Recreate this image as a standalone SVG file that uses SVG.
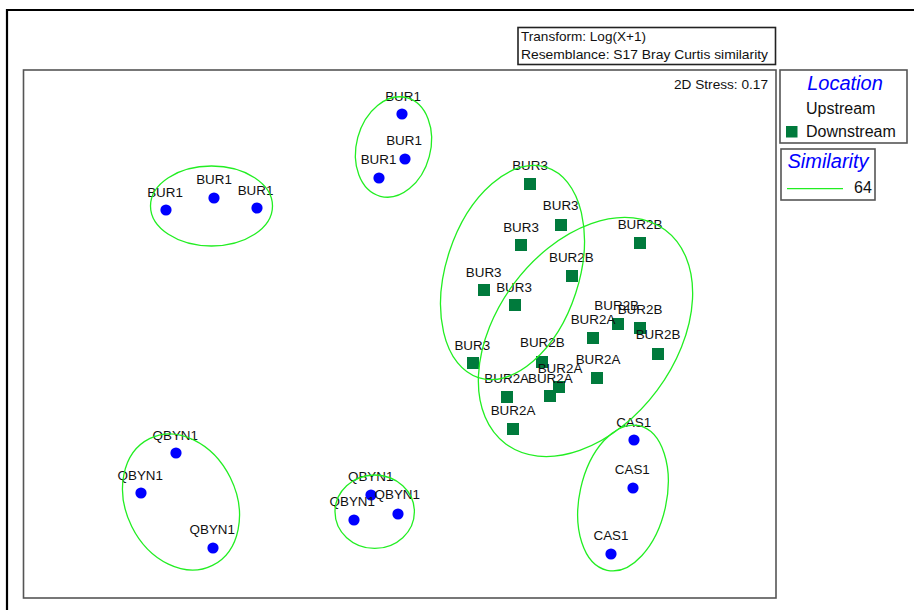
<svg xmlns="http://www.w3.org/2000/svg" width="914" height="610" viewBox="0 0 914 610">
<style>
text{font-family:"Liberation Sans",Arial,sans-serif;fill:#111}
.lbl{font-size:13.4px;text-anchor:middle}
.up{fill:#0000FF}
.dn{fill:#007A3C}
.ell{fill:none;stroke:#22EE22;stroke-width:1.3}
.box{fill:#fff;stroke:#555;stroke-width:1.6}
.leg{font-size:16px}
.ttl{font-size:20px;font-style:italic;fill:#0000FF}
</style>
<rect x="0" y="0" width="914" height="610" fill="#fff"/>
<path d="M7,610 V10 H914" fill="none" stroke="#000" stroke-width="2.2"/>
<rect id="plot" class="box" x="23.5" y="70" width="752.5" height="528"/>
<g id="transform-box">
<rect x="518" y="27.5" width="257.5" height="37" fill="#fff" stroke="#222" stroke-width="1.6"/>
<text x="521" y="41" font-size="13" textLength="125" lengthAdjust="spacingAndGlyphs">Transform: Log(X+1)</text>
<text x="521" y="59" font-size="13" textLength="247" lengthAdjust="spacingAndGlyphs">Resemblance: S17 Bray Curtis similarity</text>
</g>
<text id="stress" x="768" y="89" font-size="13" text-anchor="end" textLength="94" lengthAdjust="spacingAndGlyphs">2D Stress: 0.17</text>
<g id="legend-location">
<rect class="box" x="780" y="70" width="127" height="73"/>
<text class="ttl" x="845" y="90" text-anchor="middle">Location</text>
<text class="leg" x="806" y="114">Upstream</text>
<rect class="dn" x="786" y="126" width="11.5" height="11.5"/>
<text class="leg" x="806" y="137">Downstream</text>
</g>
<g id="legend-similarity">
<rect class="box" x="781" y="149" width="94" height="51"/>
<text class="ttl" x="828" y="168" text-anchor="middle">Similarity</text>
<line x1="787" y1="188.7" x2="843" y2="188.7" stroke="#22EE22" stroke-width="1.3"/>
<text class="leg" x="854" y="193">64</text>
</g>
<g id="nodes">
<g id="bur1-a"><circle class="up" cx="166" cy="210" r="5.6"/><text class="lbl" x="165" y="196.5">BUR1</text></g>
<g id="bur1-b"><circle class="up" cx="214" cy="198" r="5.6"/><text class="lbl" x="214" y="184">BUR1</text></g>
<g id="bur1-c"><circle class="up" cx="257" cy="208" r="5.6"/><text class="lbl" x="255.5" y="195">BUR1</text></g>
<g id="bur1-d"><circle class="up" cx="402" cy="114" r="5.6"/><text class="lbl" x="403" y="101">BUR1</text></g>
<g id="bur1-e"><circle class="up" cx="405" cy="159" r="5.6"/><text class="lbl" x="404" y="145">BUR1</text></g>
<g id="bur1-f"><circle class="up" cx="379" cy="178" r="5.6"/><text class="lbl" x="378.5" y="163.5">BUR1</text></g>
<g id="bur3-a"><rect class="dn" x="524" y="178" width="12" height="12"/><text class="lbl" x="530" y="169.5">BUR3</text></g>
<g id="bur3-b"><rect class="dn" x="555" y="219" width="12" height="12"/><text class="lbl" x="560.7" y="210">BUR3</text></g>
<g id="bur3-c"><rect class="dn" x="515" y="239" width="12" height="12"/><text class="lbl" x="521" y="231.5">BUR3</text></g>
<g id="bur3-d"><rect class="dn" x="478" y="284" width="12" height="12"/><text class="lbl" x="483.7" y="276.5">BUR3</text></g>
<g id="bur3-e"><rect class="dn" x="509" y="299" width="12" height="12"/><text class="lbl" x="514" y="291.5">BUR3</text></g>
<g id="bur3-f"><rect class="dn" x="467" y="357" width="12" height="12"/><text class="lbl" x="472.3" y="349.5">BUR3</text></g>
<g id="bur2b-a"><rect class="dn" x="634" y="237" width="12" height="12"/><text class="lbl" x="640" y="228.5">BUR2B</text></g>
<g id="bur2b-b"><rect class="dn" x="566" y="270" width="12" height="12"/><text class="lbl" x="571.3" y="262">BUR2B</text></g>
<g id="bur2b-c"><rect class="dn" x="612" y="318" width="12" height="12"/><text class="lbl" x="616.7" y="310">BUR2B</text></g>
<g id="bur2b-d"><rect class="dn" x="634" y="322" width="12" height="12"/><text class="lbl" x="640" y="313.5">BUR2B</text></g>
<g id="bur2b-e"><rect class="dn" x="652" y="348" width="12" height="12"/><text class="lbl" x="658" y="339">BUR2B</text></g>
<g id="bur2b-f"><rect class="dn" x="536" y="356" width="12" height="12"/><text class="lbl" x="542.3" y="347">BUR2B</text></g>
<g id="bur2a-a"><rect class="dn" x="587" y="332" width="12" height="12"/><text class="lbl" x="593" y="323.5">BUR2A</text></g>
<g id="bur2a-b"><rect class="dn" x="591" y="372" width="12" height="12"/><text class="lbl" x="598" y="363.5">BUR2A</text></g>
<g id="bur2a-c"><rect class="dn" x="553" y="381" width="12" height="12"/><text class="lbl" x="560" y="373">BUR2A</text></g>
<g id="bur2a-d"><rect class="dn" x="544" y="390" width="12" height="12"/><text class="lbl" x="550.3" y="382.5">BUR2A</text></g>
<g id="bur2a-e"><rect class="dn" x="501" y="391" width="12" height="12"/><text class="lbl" x="506.7" y="382.5">BUR2A</text></g>
<g id="bur2a-f"><rect class="dn" x="507" y="423" width="12" height="12"/><text class="lbl" x="513" y="415">BUR2A</text></g>
<g id="cas1-a"><circle class="up" cx="634" cy="440" r="5.6"/><text class="lbl" x="633.7" y="427">CAS1</text></g>
<g id="cas1-b"><circle class="up" cx="633" cy="488" r="5.6"/><text class="lbl" x="632.3" y="474">CAS1</text></g>
<g id="cas1-c"><circle class="up" cx="611" cy="554" r="5.6"/><text class="lbl" x="611" y="540">CAS1</text></g>
<g id="qbyn1-a"><circle class="up" cx="176" cy="453" r="5.6"/><text class="lbl" x="175.3" y="439.5">QBYN1</text></g>
<g id="qbyn1-b"><circle class="up" cx="141" cy="493" r="5.6"/><text class="lbl" x="140.3" y="479.5">QBYN1</text></g>
<g id="qbyn1-c"><circle class="up" cx="213" cy="548" r="5.6"/><text class="lbl" x="212.3" y="533.5">QBYN1</text></g>
<g id="qbyn1-d"><circle class="up" cx="371" cy="495" r="5.6"/><text class="lbl" x="370.7" y="481">QBYN1</text></g>
<g id="qbyn1-e"><circle class="up" cx="398" cy="514" r="5.6"/><text class="lbl" x="397.3" y="499">QBYN1</text></g>
<g id="qbyn1-f"><circle class="up" cx="354" cy="520" r="5.6"/><text class="lbl" x="352.3" y="506">QBYN1</text></g>
</g>
<g id="contours">
<ellipse class="ell" cx="211.5" cy="206" rx="61" ry="40"/>
<ellipse class="ell" cx="0" cy="0" rx="37" ry="51" transform="translate(393.5,147) rotate(15)"/>
<ellipse class="ell" cx="0" cy="0" rx="66.5" ry="110.5" transform="translate(512.5,272.5) rotate(18)"/>
<ellipse class="ell" cx="0" cy="0" rx="89.3" ry="133.4" transform="translate(585.5,337) rotate(36.7)"/>
<ellipse class="ell" cx="0" cy="0" rx="43.4" ry="74" transform="translate(623,498) rotate(12.4)"/>
<ellipse class="ell" cx="0" cy="0" rx="55" ry="70.8" transform="translate(181,502) rotate(-26.4)"/>
<ellipse class="ell" cx="374.7" cy="511.7" rx="39.7" ry="36.7"/>
</g>
</svg>
